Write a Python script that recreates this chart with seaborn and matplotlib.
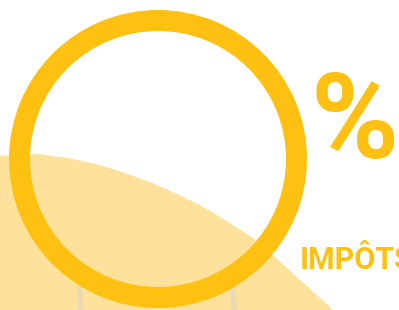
import seaborn as sns
import matplotlib.pyplot as plt
import pandas as pd

# ---------------------------
# Data (pixel space)
# ---------------------------
share = [100]                      # the ring is fully closed
hill_x = [0, 20, 40, 70, 100, 125, 150, 175, 200, 225, 250, 275, 300, 317, 333, 399]
hill_y = [156, 154.5, 154, 158.5, 165, 173, 182, 193, 205, 220, 236, 257, 280, 295, 310, 310]
hand_x = [[80, 81], [233, 234]]
hand_y = [[286, 310], [286, 310]]
pct_label = "%"
title_label = "IMPÔTS"

hill = pd.DataFrame({"x": hill_x, "y": hill_y})

# ---------------------------
# Visualization
# ---------------------------
sns.set_theme(style="white")
plt.rcParams["font.family"] = ["Roboto", "DejaVu Sans"]

fig = plt.figure(figsize=(3.99, 3.10), dpi=100)
ax = fig.add_axes([0, 0, 1, 1])

# background hill
ax.fill_between(hill["x"], hill["y"], 320, color="#fee29b", lw=0, zorder=1)

# faint hands under the ring
for hx, hy in zip(hand_x, hand_y):
    ax.plot(hx, hy, color="#ebdab0", lw=4, solid_capstyle="round", zorder=1.5)

# the ring
ax.pie(share, colors=["#fec111"], center=(158, 159), radius=149,
       wedgeprops=dict(width=21, lw=0), frame=True, startangle=90)
ax.patches[-1].set_zorder(2)

ax.text(311, 158, pct_label, fontsize=86, fontweight="bold", color="#fec111",
        ha="left", va="baseline", zorder=3)
ax.text(300, 269, title_label, fontsize=22, fontweight="bold", color="#fec111",
        ha="left", va="baseline", zorder=3)

ax.set_xlim(0, 399)
ax.set_ylim(310, 0)
ax.set_aspect("auto")
ax.axis("off")

fig.savefig("out.png", dpi=100)
